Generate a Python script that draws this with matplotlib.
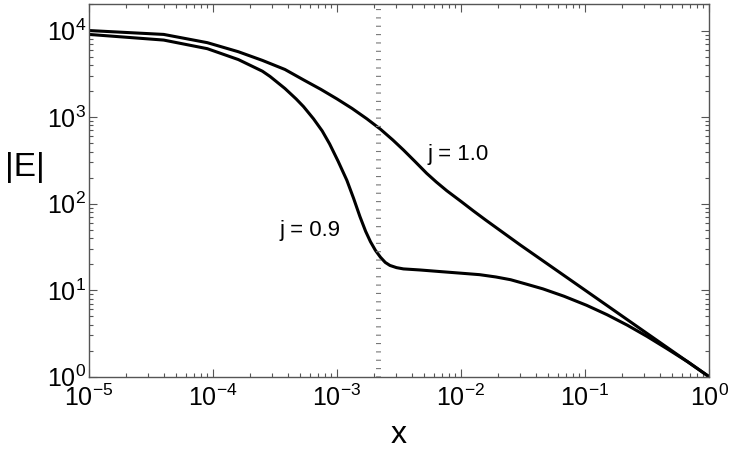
import matplotlib
matplotlib.use("Agg")
import matplotlib.pyplot as plt
from matplotlib.ticker import LogLocator, NullFormatter

plt.rcParams['font.family'] = ['Liberation Sans', 'DejaVu Sans']
plt.rcParams['mathtext.fontset'] = 'custom'
plt.rcParams['mathtext.rm'] = 'Liberation Sans'
plt.rcParams['mathtext.it'] = 'Liberation Sans:italic'

# j = 1.0 curve
x_j10 = [1e-5, 4e-5, 9e-5, 1.6e-4, 2.5e-4, 3.8e-4, 5.37e-4, 7.41e-4, 1.0e-3,
         1.32e-3, 1.74e-3, 2.24e-3, 2.82e-3, 3.43e-3, 4.27e-3, 5.28e-3,
         6.31e-3, 7.67e-3, 1.0e-2, 1.26e-2, 1.58e-2, 3e-2, 0.1, 0.3, 1.0]
E_j10 = [10000, 9020, 7240, 5690, 4520, 3550, 2690, 2090, 1620,
         1260, 955, 724, 543, 417, 305, 224,
         178, 141, 106, 82.2, 64.6, 33.3, 10, 3.33, 1.0]

# j = 0.9 curve
x_j09 = [1e-5, 4e-5, 9e-5, 1.6e-4, 2.5e-4, 2.88e-4, 3.8e-4, 4.68e-4, 5.37e-4,
         6.46e-4, 7.59e-4, 8.71e-4, 1.02e-3, 1.2e-3, 1.36e-3, 1.53e-3, 1.70e-3,
         1.86e-3, 2.04e-3, 2.24e-3, 2.45e-3, 2.67e-3, 3.02e-3, 3.43e-3, 4.68e-3,
         6.76e-3, 1.0e-2, 1.41e-2, 1.91e-2, 2.51e-2, 3.39e-2, 4.57e-2, 6.76e-2,
         0.103, 0.151, 0.219, 0.316, 0.457, 0.676, 1.0]
E_j09 = [9020, 7760, 6170, 4620, 3390, 2950, 2140, 1620, 1320,
         955, 692, 490, 309, 186, 115, 70.8, 47.9,
         36.3, 28.8, 24.0, 20.9, 19.3, 18.2, 17.6, 17.1,
         16.4, 15.7, 15.1, 14.2, 13.2, 11.7, 10.35, 8.51,
         6.68, 5.19, 3.94, 2.92, 2.11, 1.48, 1.0]

x_mark = 2.13e-3
labels = ["j = 1.0", "j = 0.9"]
label_pos = [(5.4e-3, 322), (3.45e-4, 42.5)]

fig = plt.figure(figsize=(7.34, 4.54), dpi=100)
ax = fig.add_axes([0.1213, 0.1703, 0.8447, 0.8198])

ax.plot(x_j10, E_j10, color='black', lw=2.2)
ax.plot(x_j09, E_j09, color='black', lw=2.2)
ax.axvline(x_mark, color='#777777', lw=3.6, linestyle=(0, (0.22, 1.45)),
           dash_capstyle='butt')

for txt, (tx, ty) in zip(labels, label_pos):
    ax.text(tx, ty, txt, fontsize=16, ha='left', va='baseline')

ax.set_xscale('log')
ax.set_yscale('log')
ax.set_xlim(1e-5, 1)
ax.set_ylim(1, 2e4)

ax.xaxis.set_minor_locator(LogLocator(base=10, subs=range(2, 10), numticks=20))
ax.yaxis.set_minor_locator(LogLocator(base=10, subs=range(2, 10), numticks=20))
ax.xaxis.set_minor_formatter(NullFormatter())
ax.yaxis.set_minor_formatter(NullFormatter())

ax.tick_params(which='both', direction='in', top=True, right=True,
               color='#555555', width=0.8, labelsize=18)
ax.tick_params(axis='y', pad=2)
ax.tick_params(axis='x', pad=6)
ax.tick_params(which='major', length=6)
ax.tick_params(which='minor', length=3)
for s in ax.spines.values():
    s.set_color('#555555')
    s.set_linewidth(1.0)

ax.set_xlabel('x', fontsize=23, va='baseline')
ax.xaxis.set_label_coords(0.5, -0.178)
ax.set_ylabel('|E|', fontsize=24, rotation=0, ha='center', va='center')
ax.yaxis.set_label_coords(-0.103, 0.561)

fig.savefig('out.png', dpi=100)
